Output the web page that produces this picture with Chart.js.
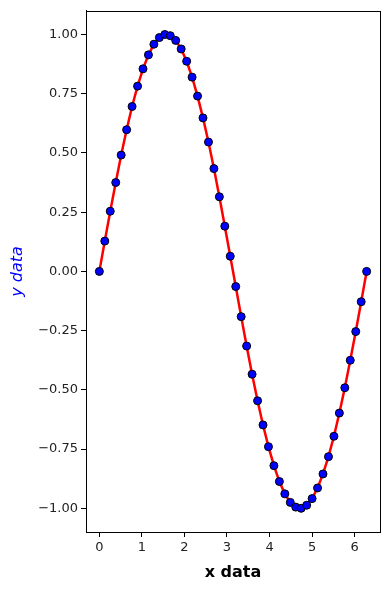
<!DOCTYPE html>
<html>
<head>
<meta charset="utf-8">
<script src="https://cdn.jsdelivr.net/npm/chart.js@4/dist/chart.umd.min.js"></script>
<style>
  html, body { margin: 0; padding: 0; background: #fff; }
  #wrap { width: 390px; height: 590px; }
</style>
</head>
<body>
<div id="wrap"><canvas id="sine-chart" width="390" height="590"></canvas></div>
<script>
// Data
const xValues = [0.000, 0.128, 0.256, 0.385, 0.513, 0.641, 0.769, 0.898, 1.026, 1.154,
                 1.282, 1.411, 1.539, 1.667, 1.795, 1.923, 2.052, 2.180, 2.308, 2.436,
                 2.565, 2.693, 2.821, 2.949, 3.077, 3.206, 3.334, 3.462, 3.590, 3.719,
                 3.847, 3.975, 4.103, 4.232, 4.360, 4.488, 4.616, 4.744, 4.873, 5.001,
                 5.129, 5.257, 5.386, 5.514, 5.642, 5.770, 5.898, 6.027, 6.155, 6.283];
const yValues = [0.000, 0.128, 0.254, 0.375, 0.491, 0.598, 0.696, 0.782, 0.855, 0.914,
                 0.959, 0.987, 1.000, 0.995, 0.975, 0.939, 0.887, 0.820, 0.740, 0.648,
                 0.546, 0.434, 0.315, 0.191, 0.064, -0.064, -0.191, -0.315, -0.434, -0.546,
                 -0.648, -0.740, -0.820, -0.887, -0.939, -0.975, -0.995, -1.000, -0.987, -0.959,
                 -0.914, -0.855, -0.782, -0.696, -0.598, -0.491, -0.375, -0.254, -0.128, 0.000];
const xTicks = [0, 1, 2, 3, 4, 5, 6];
const yTicks = [-1.00, -0.75, -0.50, -0.25, 0.00, 0.25, 0.50, 0.75, 1.00];

const points = xValues.map((x, i) => ({ x: x, y: yValues[i] }));

// Draw the full box around the plot area, like matplotlib
const framePlugin = {
    id: 'frame',
    afterDraw(chart) {
        const a = chart.chartArea;
        const ctx = chart.ctx;
        ctx.save();
        ctx.strokeStyle = '#000';
        ctx.lineWidth = 1;
        ctx.strokeRect(Math.round(a.left) + 0.5, Math.round(a.top) + 0.5,
                       Math.round(a.right - a.left), Math.round(a.bottom - a.top));
        ctx.restore();
    }
};

const tickFont = { family: 'DejaVu Sans', size: 13 };

new Chart(document.getElementById('sine-chart'), {
    type: 'line',
    data: {
        datasets: [{
            data: points,
            borderColor: '#ff0000',
            borderWidth: 2.5,
            tension: 0,
            pointRadius: 4,
            pointBorderWidth: 1,
            pointBackgroundColor: '#0000ff',
            pointBorderColor: '#000000',
            clip: false
        }]
    },
    options: {
        responsive: false,
        animation: false,
        layout: { padding: { left: 8, right: 10, top: 10, bottom: 8 } },
        plugins: { legend: { display: false }, tooltip: { enabled: false } },
        scales: {
            x: {
                type: 'linear',
                min: -0.314,
                max: 6.597,
                afterBuildTicks: scale => { scale.ticks = xTicks.map(v => ({ value: v })); },
                afterFit: scale => { scale.height = 50; },
                grid: { drawOnChartArea: false, drawTicks: true, tickLength: 5, color: '#000' },
                border: { display: true, color: '#000' },
                ticks: { color: '#222', font: tickFont, padding: 3, maxRotation: 0,
                         callback: v => String(v) },
                title: { display: true, text: 'x data', color: '#000',
                         font: { family: 'DejaVu Sans', size: 16, weight: 'bold' },
                         padding: { top: 2, bottom: 0 } }
            },
            y: {
                type: 'linear',
                min: -1.1,
                max: 1.1,
                afterBuildTicks: scale => { scale.ticks = yTicks.map(v => ({ value: v })); },
                afterFit: scale => { scale.width = 78; },
                grid: { drawOnChartArea: false, drawTicks: true, tickLength: 5, color: '#000' },
                border: { display: true, color: '#000' },
                ticks: { color: '#222', font: tickFont, padding: 3,
                         callback: v => (v < 0 ? '\u2212' : '') + Math.abs(v).toFixed(2) },
                title: { display: true, text: 'y data', color: '#0000ff',
                         font: { family: 'DejaVu Sans', size: 16, style: 'italic' },
                         padding: { top: 0, bottom: 0 } }
            }
        }
    },
    plugins: [framePlugin]
});
</script>
</body>
</html>
